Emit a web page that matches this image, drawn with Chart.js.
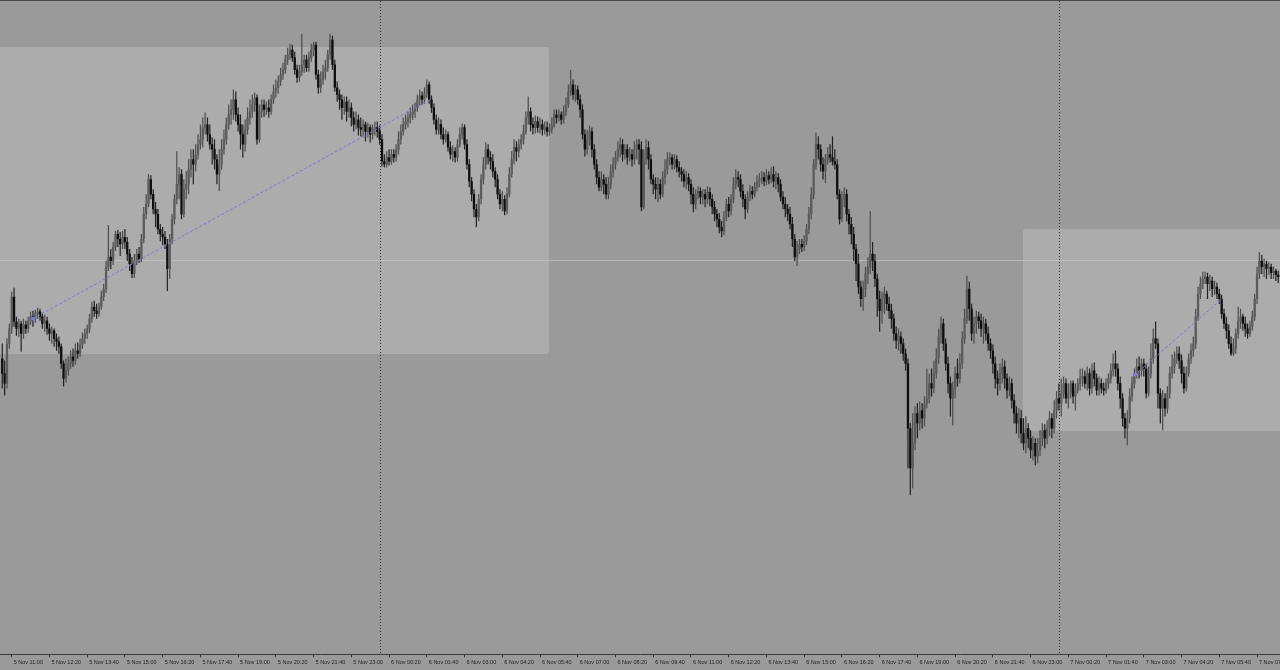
<!DOCTYPE html>
<html><head><meta charset="utf-8">
<script src="https://cdn.jsdelivr.net/npm/chart.js@4.4.1/dist/chart.umd.min.js"></script>
<style>html,body{margin:0;padding:0;background:#9a9a9a;overflow:hidden}#wrap{width:1280px;height:670px}</style>
</head><body><div id="wrap"><canvas id="c" width="1280" height="670"></canvas></div>
<script>
// 5-minute bars, 5 Nov ~10:40 .. 7 Nov ~07:50. Price values are chart units,
// counted downward from the top of the price window (the price axis is drawn reversed).
const open=[360,375,385,345,330,298,323,330,325,335,326,330,322,318,320,315,313,318,325,322,
330,335,332,340,343,348,365,380,372,365,358,362,352,355,346,340,335,330,320,308,
312,315,308,298,290,268,258,262,248,235,240,245,238,243,255,265,275,262,255,260,
240,215,205,180,195,210,215,230,235,238,245,270,240,220,200,185,175,215,190,185,
170,160,165,155,145,140,128,125,135,145,150,160,175,165,150,140,125,115,110,100,
115,125,135,145,130,118,112,105,98,140,112,105,110,108,112,100,92,88,82,75,
70,60,55,50,58,70,78,72,65,60,68,58,50,45,75,88,80,72,68,55,
40,65,88,95,100,108,102,112,108,118,125,120,128,130,125,132,128,135,130,128,
132,140,162,165,158,162,155,158,150,140,132,125,122,118,115,112,108,100,96,100,
94,85,100,108,120,130,125,135,140,135,148,155,152,158,145,135,128,145,165,182,
195,210,218,200,180,165,150,158,162,172,180,195,205,200,212,195,175,160,148,152,
145,140,132,118,112,125,128,122,128,125,130,128,132,130,125,115,118,115,120,112,
105,92,85,95,90,100,110,135,150,140,132,150,165,178,188,180,185,195,185,172,
165,158,150,145,155,150,158,155,160,150,145,150,208,160,148,160,180,185,190,185,
195,178,170,160,158,165,160,168,172,175,182,178,185,195,205,195,192,198,195,200,
193,200,208,215,220,228,232,218,205,212,200,185,178,180,192,200,210,198,192,195,
188,182,180,178,182,176,180,175,182,178,185,198,205,210,215,225,240,258,250,245,
248,242,230,215,195,165,145,150,165,172,160,155,158,162,165,195,220,200,195,215,
225,235,250,265,288,300,290,275,268,255,262,280,300,312,300,295,305,312,320,335,
342,338,345,355,365,430,470,445,415,425,412,420,405,400,385,390,375,360,338,325,
345,365,385,400,390,375,380,365,340,320,290,310,335,325,318,322,330,325,335,345,
352,365,380,385,375,368,380,392,385,402,415,425,420,435,445,430,440,452,445,458,
452,440,432,440,430,420,430,412,400,405,395,385,400,395,385,398,392,385,380,378,
385,375,390,372,380,392,385,390,392,385,380,372,365,370,385,400,420,430,420,398,
385,375,368,372,365,370,395,375,360,340,345,395,410,400,410,395,375,368,360,355,
362,375,390,375,360,352,345,318,295,285,280,278,285,282,290,288,295,300,315,325,
332,345,355,350,335,322,318,325,330,335,328,318,300,275,262,268,265,270,268,274,
272,276];
const high=[345,362,340,325,293,289,318,320,322,320,322,318,313,312,311,309,310,314,316,318,
325,328,330,335,338,345,362,360,358,352,350,345,344,340,334,330,326,315,303,302,
305,304,292,285,262,226,250,243,232,231,233,232,230,238,250,258,255,250,248,235,
208,195,175,176,190,203,210,225,228,232,240,235,215,195,152,168,170,180,172,160,
150,150,145,135,125,118,113,118,125,138,140,155,150,140,130,118,105,100,90,92,
108,115,125,120,108,100,95,93,95,105,100,100,102,100,95,85,80,76,68,63,
55,48,44,45,52,65,65,34,55,55,52,44,42,42,70,72,65,60,50,34,
36,60,82,90,95,97,97,100,103,112,112,115,118,120,122,123,125,125,122,122,
126,135,155,152,150,150,150,145,132,125,118,115,112,108,105,103,95,90,92,88,
80,82,96,104,115,118,120,128,130,132,142,146,148,140,128,124,125,140,160,178,
190,205,195,175,158,143,145,152,155,168,175,190,192,196,188,168,152,140,142,140,
135,125,112,97,108,118,116,117,118,120,122,122,124,118,110,110,110,112,106,98,
85,70,80,85,86,95,105,130,130,126,128,145,160,172,172,175,178,178,165,158,
152,142,138,140,145,145,148,150,142,140,140,142,150,140,142,155,175,178,178,180,
172,160,153,153,155,155,156,162,168,170,172,174,180,188,190,187,188,190,190,187,
188,195,202,210,214,222,212,200,198,195,178,170,172,175,185,195,192,186,187,183,
176,174,172,173,170,172,168,167,172,174,180,192,198,205,208,218,235,242,240,240,
236,225,208,188,160,133,137,145,158,155,148,145,137,150,160,190,192,188,190,210,
218,228,245,255,282,282,268,258,212,243,255,275,292,293,288,292,298,305,315,328,
330,333,340,350,360,425,415,408,405,403,405,398,370,375,370,362,350,330,318,320,
340,358,378,383,368,360,355,333,310,277,283,305,318,312,313,315,318,320,328,340,
346,358,372,365,360,362,375,378,380,396,408,410,412,420,418,425,432,438,440,440,
432,425,426,422,413,415,402,393,385,380,378,380,385,382,382,385,380,370,370,372,
368,370,365,364,375,378,380,384,380,375,365,355,352,365,378,395,415,412,390,378,
370,360,358,360,360,365,368,345,330,323,340,390,392,395,388,368,356,353,348,348,
356,368,368,355,345,338,310,288,278,273,273,274,276,278,282,284,290,296,310,318,
326,338,340,330,308,310,315,318,325,322,312,295,268,253,256,260,262,263,265,268,
270,272];
const low=[390,397,390,350,335,328,337,338,353,340,335,334,326,328,324,320,322,330,333,336,
342,345,348,352,355,370,388,384,377,370,368,366,360,358,350,345,340,334,324,318,
320,318,311,302,294,272,270,266,252,248,257,250,250,262,272,279,279,266,264,263,
244,220,208,200,215,228,235,242,246,250,292,280,245,225,205,200,220,218,200,195,
178,185,172,160,150,148,135,142,150,165,170,185,192,170,155,145,130,125,120,122,
132,150,158,152,135,125,118,112,145,143,118,117,115,118,115,104,98,94,86,80,
74,65,60,62,75,83,82,76,73,72,72,62,56,80,94,93,85,80,72,60,
70,92,102,110,120,115,122,118,127,132,130,136,137,138,142,138,143,140,136,138,
145,167,168,168,166,165,163,162,155,145,136,130,128,124,120,118,112,106,105,104,
98,104,113,125,135,135,140,145,143,152,160,162,163,162,148,140,150,170,188,202,
218,228,222,205,185,170,165,170,178,188,200,210,212,216,215,198,178,165,162,158,
150,145,135,125,132,135,134,133,134,136,135,137,136,134,128,124,122,125,124,116,
108,96,100,102,105,118,140,157,155,146,158,170,185,192,192,195,200,200,190,178,
170,162,158,162,160,165,162,167,165,160,165,212,210,165,170,185,195,200,203,200,
198,185,175,166,170,170,173,178,182,188,190,192,205,213,210,200,205,205,208,205,
207,215,222,228,234,238,236,222,218,216,204,190,188,198,208,220,214,202,200,198,
192,188,185,187,186,185,184,188,190,193,202,210,218,222,230,248,262,267,255,253,
252,246,235,220,200,170,160,172,180,184,165,163,166,170,200,225,223,208,222,235,
245,262,282,295,308,312,298,285,275,272,288,318,333,325,315,312,320,330,342,350,
352,355,362,372,470,497,490,452,440,432,430,428,410,405,398,395,380,365,345,352,
372,395,418,427,400,388,385,370,345,325,322,342,345,335,330,338,345,342,352,360,
375,390,397,392,385,390,400,398,410,425,435,440,445,452,455,450,460,462,467,465,
458,448,450,446,438,440,435,420,412,418,400,405,410,400,405,412,395,392,388,390,
392,397,395,388,397,397,395,397,395,390,385,378,378,392,410,428,440,447,425,403,
390,380,380,378,378,400,398,380,365,350,410,425,432,418,415,400,380,375,365,370,
385,395,393,378,365,358,350,322,300,290,285,300,292,298,296,300,305,320,330,340,
350,357,357,355,340,330,332,338,340,338,332,322,305,280,275,278,280,276,280,280,
282,284];
const close=[375,385,345,330,298,323,330,325,335,326,330,322,318,320,315,313,318,325,322,330,
335,332,340,343,348,365,380,372,365,358,362,352,355,346,340,335,330,320,308,312,
315,308,298,290,268,258,262,248,235,240,245,238,243,255,265,275,262,255,260,240,
215,205,180,195,210,215,230,235,238,245,270,240,220,200,185,175,215,190,185,170,
160,165,155,145,140,128,125,135,145,150,160,175,165,150,140,125,115,110,100,115,
125,135,145,130,118,112,105,98,140,112,105,110,108,112,100,92,88,82,75,70,
60,55,50,58,70,78,72,65,60,68,58,50,45,75,88,80,72,68,55,40,
65,88,95,100,108,102,112,108,118,125,120,128,130,125,132,128,135,130,128,132,
140,162,165,158,162,155,158,150,140,132,125,122,118,115,112,108,100,96,100,94,
85,100,108,120,130,125,135,140,135,148,155,152,158,145,135,128,145,165,182,195,
210,218,200,180,165,150,158,162,172,180,195,205,200,212,195,175,160,148,152,145,
140,132,118,112,125,128,122,128,125,130,128,132,130,125,115,118,115,120,112,105,
92,85,95,90,100,110,135,150,140,132,150,165,178,188,180,185,195,185,172,165,
158,150,145,155,150,158,155,160,150,145,150,208,160,148,160,180,185,190,185,195,
178,170,160,158,165,160,168,172,175,182,178,185,195,205,195,192,198,195,200,193,
200,208,215,220,228,232,218,205,212,200,185,178,180,192,200,210,198,192,195,188,
182,180,178,182,176,180,175,182,178,185,198,205,210,215,225,240,258,250,245,248,
242,230,215,195,165,145,150,165,172,160,155,158,162,165,195,220,200,195,215,225,
235,250,265,288,300,290,275,268,255,262,280,300,312,300,295,305,312,320,335,342,
338,345,355,365,430,470,445,415,425,412,420,405,400,385,390,375,360,338,325,345,
365,385,400,390,375,380,365,340,320,290,310,335,325,318,322,330,325,335,345,352,
365,380,385,375,368,380,392,385,402,415,425,420,435,445,430,440,452,445,458,452,
440,432,440,430,420,430,412,400,405,395,385,400,395,385,398,392,385,380,378,385,
375,390,372,380,392,385,390,392,385,380,372,365,370,385,400,420,430,420,398,385,
375,368,372,365,370,395,375,360,340,345,395,410,400,410,395,375,368,360,355,362,
375,390,375,360,352,345,318,295,285,280,278,285,282,290,288,295,300,315,325,332,
345,355,350,335,322,318,325,330,335,328,318,300,275,262,268,265,270,268,274,272,
276,278];

// time axis: a label every 16 bars (80 minutes), first at bar 4
const tickLabels=["5 Nov 11:00","5 Nov 12:20","5 Nov 13:40","5 Nov 15:00","5 Nov 16:20","5 Nov 17:40","5 Nov 19:00","5 Nov 20:20","5 Nov 21:40","5 Nov 23:00",
"6 Nov 00:20","6 Nov 01:40","6 Nov 03:00","6 Nov 04:20","6 Nov 05:40","6 Nov 07:00","6 Nov 08:20","6 Nov 09:40","6 Nov 11:00","6 Nov 12:20",
"6 Nov 13:40","6 Nov 15:00","6 Nov 16:20","6 Nov 17:40","6 Nov 19:00","6 Nov 20:20","6 Nov 21:40","6 Nov 23:00",
"7 Nov 00:20","7 Nov 01:40","7 Nov 03:00","7 Nov 04:20","7 Nov 05:40","7 Nov 07:00"];
const tickBars=tickLabels.map((_,k)=>4+16*k);
const daySeparators=[160,448];            // 6 Nov 00:00, 7 Nov 00:00
const zoneX1=[-6,231.8], zoneY1=[47,355];  // shaded boxes (bar index / price)
const zoneX2=[432.8,560], zoneY2=[230,433];
const levelLine=261;
const trendAX=[13.0,181.4], trendAY=[320,100];
const trendBX=[480.3,517.2], trendBY=[376,300];

const bodyData=open.map((o,i)=>({x:i,y:[o,close[i]]}));
const wickData=high.map((h,i)=>({x:i,y:[h,low[i]]}));
const bear=i=>close[i]>open[i];
const trendA=trendAX.map((x,i)=>({x,y:trendAY[i]}));
const trendB=trendBX.map((x,i)=>({x,y:trendBY[i]}));

const bgPlugin={id:'bg',
 beforeDraw(chart){
  const {ctx,chartArea:a,scales:{x,y}}=chart;
  ctx.save();
  ctx.fillStyle='#9a9a9a';ctx.fillRect(0,0,chart.width,chart.height);
  ctx.beginPath();ctx.rect(a.left,a.top,a.right-a.left,a.bottom-a.top);ctx.clip();
  ctx.fillStyle='#acacac';
  [[zoneX1,zoneY1],[zoneX2,zoneY2]].forEach(([zx,zy])=>{
    const x0=Math.round(x.getPixelForValue(zx[0])),x1=Math.round(x.getPixelForValue(zx[1]));
    const y0=Math.round(y.getPixelForValue(zy[0])),y1=Math.round(y.getPixelForValue(zy[1]));
    ctx.beginPath();ctx.roundRect(x0,y0,x1-x0,y1-y0,3);ctx.fill();
  });
  const ly=Math.round(y.getPixelForValue(levelLine))+0.5;
  ctx.strokeStyle='rgba(205,205,205,0.55)';ctx.lineWidth=1;
  ctx.beginPath();ctx.moveTo(a.left,ly);ctx.lineTo(a.right,ly);ctx.stroke();
  ctx.strokeStyle='#2e2e2e';ctx.setLineDash([1,2]);
  daySeparators.forEach(b=>{const px=Math.round(x.getPixelForValue(b))+0.5;
    ctx.beginPath();ctx.moveTo(px,a.top);ctx.lineTo(px,a.bottom);ctx.stroke();});
  ctx.restore();
  ctx.save();ctx.strokeStyle='#4a4a4a';ctx.lineWidth=1;
  ctx.beginPath();ctx.moveTo(0,0.5);ctx.lineTo(chart.width,0.5);ctx.stroke();ctx.restore();
 }};

new Chart(document.getElementById('c'),{
 type:'bar',
 data:{datasets:[
  {type:'line',data:trendA,borderColor:'#7c7cd8',borderWidth:1,borderDash:[3,2],pointRadius:[2,0],pointBackgroundColor:'#7c7cd8',pointBorderWidth:0,order:0,tension:0},
  {type:'line',data:trendB,borderColor:'#7c7cd8',borderWidth:1,borderDash:[3,2],pointRadius:[2,0],pointBackgroundColor:'#7c7cd8',pointBorderWidth:0,order:0,tension:0},
  {label:'body',data:bodyData,grouped:false,barThickness:2,minBarLength:1,inflateAmount:0.15,
   backgroundColor:c=>bear(c.dataIndex)?'#0e0e0e':'#5c5c5c',order:1},
  {label:'wick',data:wickData,grouped:false,barThickness:1,inflateAmount:0.1,
   backgroundColor:c=>bear(c.dataIndex)?'#222':'#4c4c4c',order:2}
 ]},
 options:{responsive:false,animation:false,devicePixelRatio:1,events:[],
  layout:{autoPadding:false,padding:{left:0,right:0,top:1,bottom:2}},
  plugins:{legend:{display:false},tooltip:{enabled:false}},
  scales:{
   x:{type:'linear',min:-0.96,max:541.74,offset:false,
    afterBuildTicks:s=>{s.ticks=tickBars.map(v=>({value:v}));},
    afterFit:s=>{s.paddingLeft=0;s.paddingRight=0;},
    ticks:{autoSkip:false,maxRotation:0,minRotation:0,align:'start',labelOffset:2,padding:2,color:'#222',
     font:{family:'Liberation Sans',size:5.5},callback:(v,i)=>tickLabels[i]},
    grid:{drawOnChartArea:false,drawTicks:true,tickLength:3,color:'#3a3a3a',offset:false},
    border:{display:true,color:'#3a3a3a',width:1}},
   y:{type:'linear',reverse:true,min:1,max:657,display:false}
  }},
 plugins:[bgPlugin]
});
</script></body></html>
